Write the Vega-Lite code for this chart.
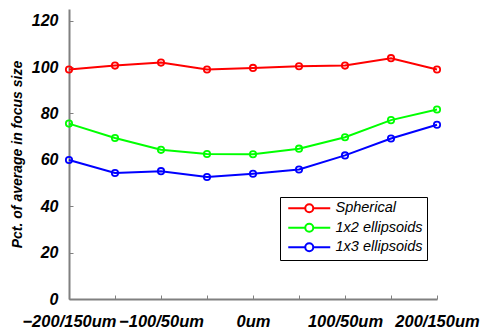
{
  "$schema": "https://vega.github.io/schema/vega-lite/v6.json",
  "width": 368,
  "height": 290,
  "autosize": {"type": "none"},
  "padding": {"left": 69, "top": 9, "right": 52, "bottom": 32},
  "background": "white",
  "config": {
    "view": {"stroke": null},
    "font": "Liberation Sans"
  },
  "data": {
    "values": [
      {"offset": -200, "series": "Spherical", "pct": 98.9},
      {"offset": -150, "series": "Spherical", "pct": 100.6},
      {"offset": -100, "series": "Spherical", "pct": 101.9},
      {"offset": -50, "series": "Spherical", "pct": 98.9},
      {"offset": 0, "series": "Spherical", "pct": 99.6},
      {"offset": 50, "series": "Spherical", "pct": 100.3},
      {"offset": 100, "series": "Spherical", "pct": 100.6},
      {"offset": 150, "series": "Spherical", "pct": 103.8},
      {"offset": 200, "series": "Spherical", "pct": 98.9},
      {"offset": -200, "series": "1x2 ellipsoids", "pct": 75.6},
      {"offset": -150, "series": "1x2 ellipsoids", "pct": 69.4},
      {"offset": -100, "series": "1x2 ellipsoids", "pct": 64.3},
      {"offset": -50, "series": "1x2 ellipsoids", "pct": 62.5},
      {"offset": 0, "series": "1x2 ellipsoids", "pct": 62.4},
      {"offset": 50, "series": "1x2 ellipsoids", "pct": 64.8},
      {"offset": 100, "series": "1x2 ellipsoids", "pct": 69.7},
      {"offset": 150, "series": "1x2 ellipsoids", "pct": 77.1},
      {"offset": 200, "series": "1x2 ellipsoids", "pct": 81.7},
      {"offset": -200, "series": "1x3 ellipsoids", "pct": 59.9},
      {"offset": -150, "series": "1x3 ellipsoids", "pct": 54.3},
      {"offset": -100, "series": "1x3 ellipsoids", "pct": 55.1},
      {"offset": -50, "series": "1x3 ellipsoids", "pct": 52.6},
      {"offset": 0, "series": "1x3 ellipsoids", "pct": 54.0},
      {"offset": 50, "series": "1x3 ellipsoids", "pct": 55.8},
      {"offset": 100, "series": "1x3 ellipsoids", "pct": 61.9},
      {"offset": 150, "series": "1x3 ellipsoids", "pct": 69.2},
      {"offset": 200, "series": "1x3 ellipsoids", "pct": 75.1}
    ]
  },
  "encoding": {
    "x": {
      "field": "offset",
      "type": "quantitative",
      "scale": {"domain": [-200, 200], "nice": false, "zero": false},
      "axis": {
        "values": [-200, -150, -100, -50, 0, 50, 100, 150, 200],
        "labelExpr": "datum.value % 100 != 0 ? '' : (datum.value == 0 ? '0um' : (datum.value < 0 ? '\u2212' : '') + abs(datum.value) + '/' + (abs(datum.value) - 50) + 'um')",
        "title": null,
        "grid": false,
        "domainColor": "#808080",
        "domainWidth": 2,
        "tickColor": "#808080",
        "tickWidth": 1,
        "tickSize": -4,
        "labelPadding": 18,
        "labelFontSize": 16.5,
        "labelFontWeight": "bold",
        "labelFontStyle": "italic",
        "labelColor": "black",
        "labelOverlap": false,
        "labelFlush": false
      }
    },
    "y": {
      "field": "pct",
      "type": "quantitative",
      "scale": {"domain": [0, 125], "nice": false},
      "axis": {
        "values": [0, 20, 40, 60, 80, 100, 120],
        "title": "Pct. of average in focus size",
        "titleFontSize": 14,
        "titleFontWeight": "bold",
        "titleFontStyle": "italic",
        "titleColor": "black",
        "titlePadding": 7,
        "grid": false,
        "domainColor": "#808080",
        "domainWidth": 2,
        "tickColor": "#808080",
        "tickWidth": 1,
        "tickSize": -4,
        "labelPadding": 15,
        "labelFontSize": 16,
        "labelFontWeight": "bold",
        "labelFontStyle": "italic",
        "labelColor": "black"
      }
    },
    "color": {
      "field": "series",
      "type": "nominal",
      "scale": {
        "domain": ["Spherical", "1x2 ellipsoids", "1x3 ellipsoids"],
        "range": ["#ff0000", "#00ff00", "#0000ff"]
      },
      "legend": {
        "title": null,
        "orient": "none",
        "legendX": 211,
        "legendY": 188,
        "strokeColor": "black",
        "fillColor": "white",
        "padding": 4,
        "rowPadding": 2.5,
        "symbolType": "M -4.2 0 L -0.8 0 M 0.8 0 L 4.2 0 M -0.8 0 A 0.8 0.8 0 1 1 0.8 0 A 0.8 0.8 0 1 1 -0.8 0",
        "symbolSize": 100,
        "symbolOffset": 18,
        "symbolStrokeWidth": 2,
        "symbolFillColor": "transparent",
        "labelFontSize": 14.5,
        "labelFontStyle": "italic",
        "labelColor": "black",
        "labelOffset": 19,
        "labelLimit": 200
      }
    }
  },
  "layer": [
    {"mark": {"type": "line", "strokeWidth": 2}},
    {"mark": {"type": "point", "shape": "circle", "filled": false, "size": 40, "strokeWidth": 1.8, "opacity": 1}}
  ]
}
